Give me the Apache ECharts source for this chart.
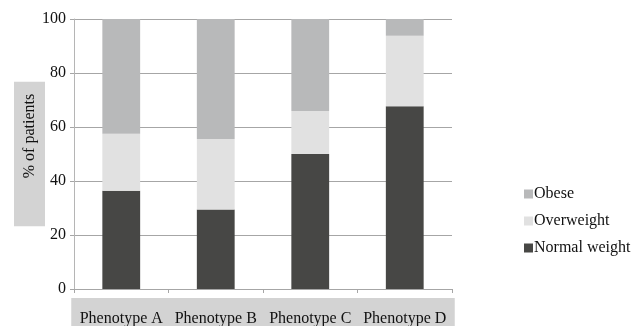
<!DOCTYPE html>
<html><head><meta charset="utf-8">
<script src="https://cdn.jsdelivr.net/npm/echarts@6/dist/echarts.min.js"></script>
<style>html,body{margin:0;padding:0;background:#fff}#c{width:644px;height:326px}</style>
</head><body><div id="c"></div>
<script>
const categories = ['Phenotype A', 'Phenotype B', 'Phenotype C', 'Phenotype D'];
const normalWeight = [36.4, 29.4, 50.0, 67.7];
const overweight = [21.1, 26.2, 15.9, 26.1];
const obese = [42.5, 44.4, 34.1, 6.2];
const yTicks = [0, 20, 40, 60, 80, 100];

const font = '"Liberation Serif", "Times New Roman", serif';
const chart = echarts.init(document.getElementById('c'), null, {renderer: 'canvas'});
chart.setOption({
  animation: false,
  backgroundColor: '#fff',
  grid: {left: 74, right: 192, top: 19, bottom: 37, containLabel: false, outerBoundsMode: 'none'},
  legend: {
    orient: 'vertical', left: 519, top: 181,
    itemWidth: 9, itemHeight: 9, itemGap: 11,
    icon: 'rect',
    data: ['Obese', 'Overweight', 'Normal weight'],
    textStyle: {fontFamily: font, fontSize: 16, color: '#111', padding: [0,0,0,-4]}
  },
  xAxis: {
    type: 'category', data: categories,
    axisLine: {lineStyle: {color: '#a6a6a6', width: 1}},
    axisTick: {show: true, length: 4, alignWithLabel: false, lineStyle: {color: '#a6a6a6'}},
    axisLabel: {
      fontFamily: font, fontSize: 16, color: '#111', margin: 9,
      backgroundColor: '#d3d3d3', width: 100, align: 'center',
      padding: [13, 0, 7, 0], interval: 0
    }
  },
  yAxis: {
    type: 'value', min: 0, max: 100, interval: 20,
    name: '% of patients', nameLocation: 'middle', nameGap: 29, nameMoveOverlap: false,
    nameTextStyle: {fontFamily: font, fontSize: 16, color: '#111',
      backgroundColor: '#d3d3d3', padding: [8, 12, 7, 48]},
    axisLine: {show: true, lineStyle: {color: '#b5b5b5'}},
    axisTick: {show: true, length: 4, lineStyle: {color: '#a6a6a6'}},
    splitLine: {show: true, lineStyle: {color: '#a6a6a6'}},
    axisLabel: {fontFamily: font, fontSize: 16, color: '#111', margin: 8,
      formatter: v => yTicks.includes(v) ? String(v) : ''}
  },
  series: [
    {name: 'Normal weight', type: 'bar', stack: 's', data: normalWeight, barWidth: '40%', itemStyle: {color: '#474745'}},
    {name: 'Overweight', type: 'bar', stack: 's', data: overweight, itemStyle: {color: '#e1e1e1'}},
    {name: 'Obese', type: 'bar', stack: 's', data: obese, itemStyle: {color: '#b8b9ba'}}
  ]
});
</script></body></html>
